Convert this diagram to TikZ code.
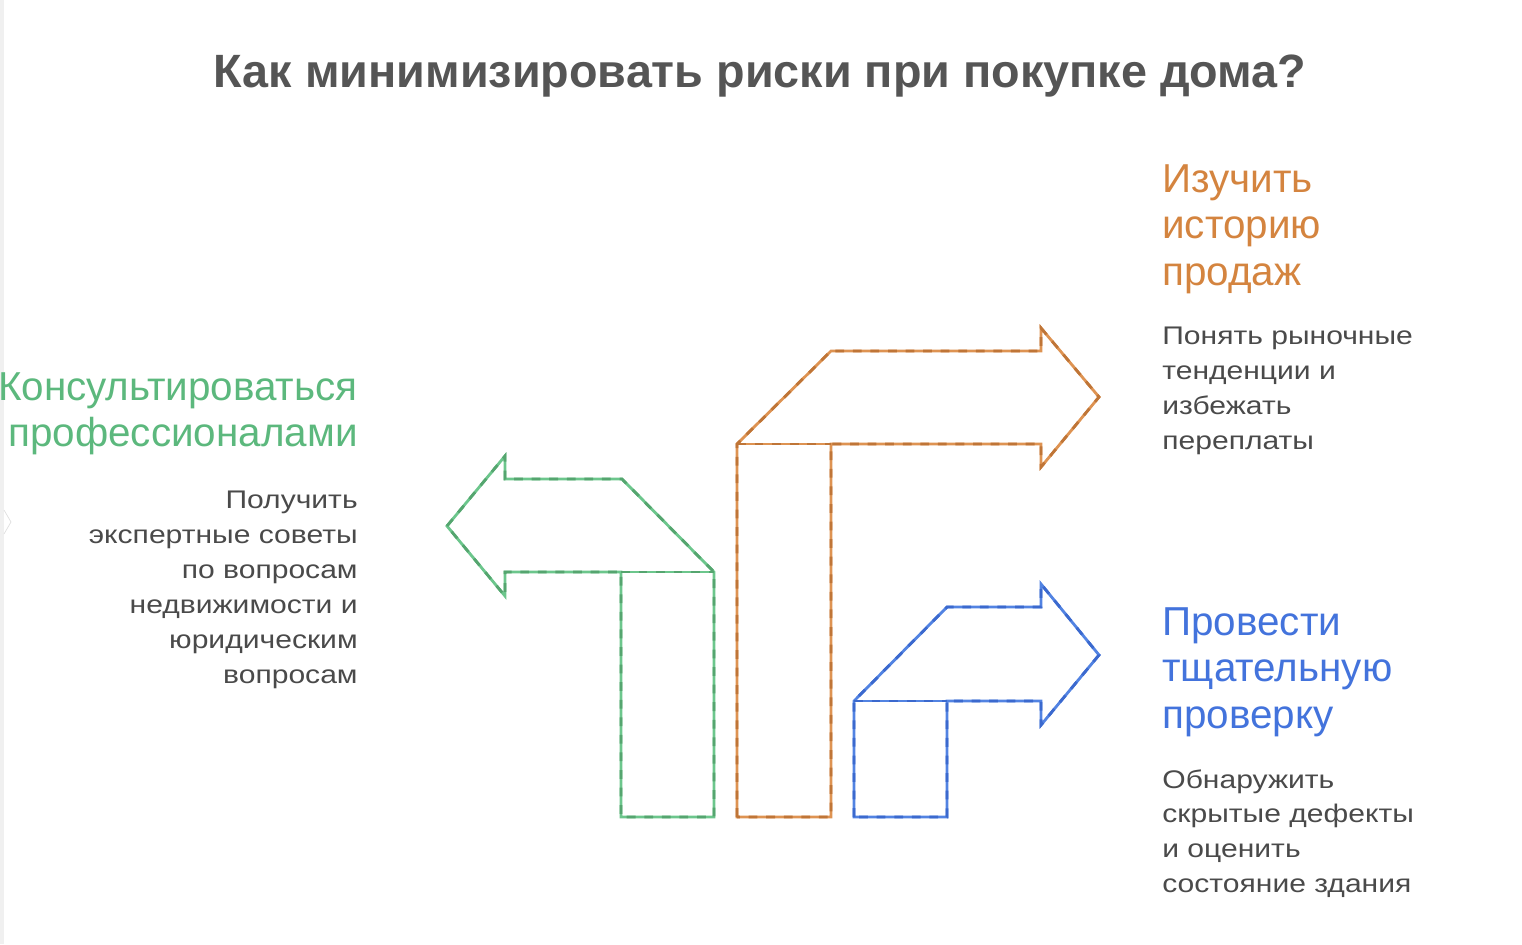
\documentclass[tikz,border=0pt]{standalone}
\usepackage{fontspec}
\setmainfont{Liberation Sans}
\newfontfamily\bodyfam[FakeStretch=1.18]{Liberation Sans}
\usetikzlibrary{positioning}
\usetikzlibrary{calc}

\definecolor{titlegray}{HTML}{555555}
\definecolor{bodygray}{HTML}{4A4A4A}
\definecolor{greenline}{HTML}{6CC68C}
\definecolor{greendash}{HTML}{55A56F}
\definecolor{greentext}{HTML}{5CB87D}
\definecolor{orangeline}{HTML}{DE9352}
\definecolor{orangedash}{HTML}{BF7537}
\definecolor{orangetext}{HTML}{D4843F}
\definecolor{blueline}{HTML}{5283E2}
\definecolor{bluedash}{HTML}{3B69CE}
\definecolor{bluetext}{HTML}{4373DC}

\begin{document}
\begin{tikzpicture}[
    x=0.02cm, y=-0.02cm,
    title/.style={font=\bfseries\fontsize{26.6}{32}\selectfont, text=titlegray, inner sep=0},
    head/.style={font=\fontsize{23}{26.6}\selectfont, inner sep=0},
    body/.style={font=\bodyfam\fontsize{14.5}{19.85}\selectfont, text=bodygray, inner sep=0},
    greenarrow/.style={draw=greenline, line width=1.6pt, postaction={draw=greendash, line width=1.6pt, dash pattern=on 5pt off 5pt}},
    orangearrow/.style={draw=orangeline, line width=1.6pt, postaction={draw=orangedash, line width=1.6pt, dash pattern=on 5pt off 5pt}},
    bluearrow/.style={draw=blueline, line width=1.6pt, postaction={draw=bluedash, line width=1.6pt, dash pattern=on 5pt off 5pt}}
]
    \useasboundingbox (0,0) rectangle (1522,944);

    % Window edge
    \fill[gray!12] (0,0) rectangle (4,944);
    \draw[gray!25, fill=white] (4,510) -- (11,522) -- (4,534);

    % Title
    \node[title, anchor=base] (T1) at (760,87) {Как минимизировать риски при покупке дома?};

    % Consult professionals
    \draw[greenarrow] (447,526) -- (505,456) -- (505,479) -- (622,479) -- (714,572)
        -- (714,817) -- (621,817) -- (621,572) -- (505,572) -- (505,596) -- cycle;
    \draw[greenarrow] (621,572) -- (714,572);

    \node[head, text=greentext, align=right, anchor=north east] (H1) at (358,372)
        {Консультироваться\\с профессионалами};
    \node[body, align=right, anchor=north east] (B1) at (358,491)
        {Получить\\экспертные советы\\по вопросам\\недвижимости и\\юридическим\\вопросам};

    % Sales history
    \draw[orangearrow] (737,817) -- (737,444) -- (831,351) -- (1041,351) -- (1041,328)
        -- (1099,397) -- (1041,467) -- (1041,444) -- (831,444) -- (831,817) -- cycle;
    \draw[orangearrow] (737,444) -- (831,444);

    \node[head, text=orangetext, align=left, anchor=north west] (H2) at (1162,164)
        {Изучить\\историю\\продаж};
    \node[body, align=left, anchor=north west] (B2) at (1162,327)
        {Понять рыночные\\тенденции и\\избежать\\переплаты};

    % Inspection
    \draw[bluearrow] (854,817) -- (854,701) -- (947,607) -- (1041,607) -- (1041,584)
        -- (1099,655) -- (1041,725) -- (1041,701) -- (947,701) -- (947,817) -- cycle;
    \draw[bluearrow] (854,701) -- (947,701);

    \node[head, text=bluetext, align=left, anchor=north west] (H3) at (1162,607)
        {Провести\\тщательную\\проверку};
    \node[body, align=left, anchor=north west] (B3) at (1162,769)
        {Обнаружить\\скрытые дефекты\\и оценить\\состояние здания};
\end{tikzpicture}
\end{document}
